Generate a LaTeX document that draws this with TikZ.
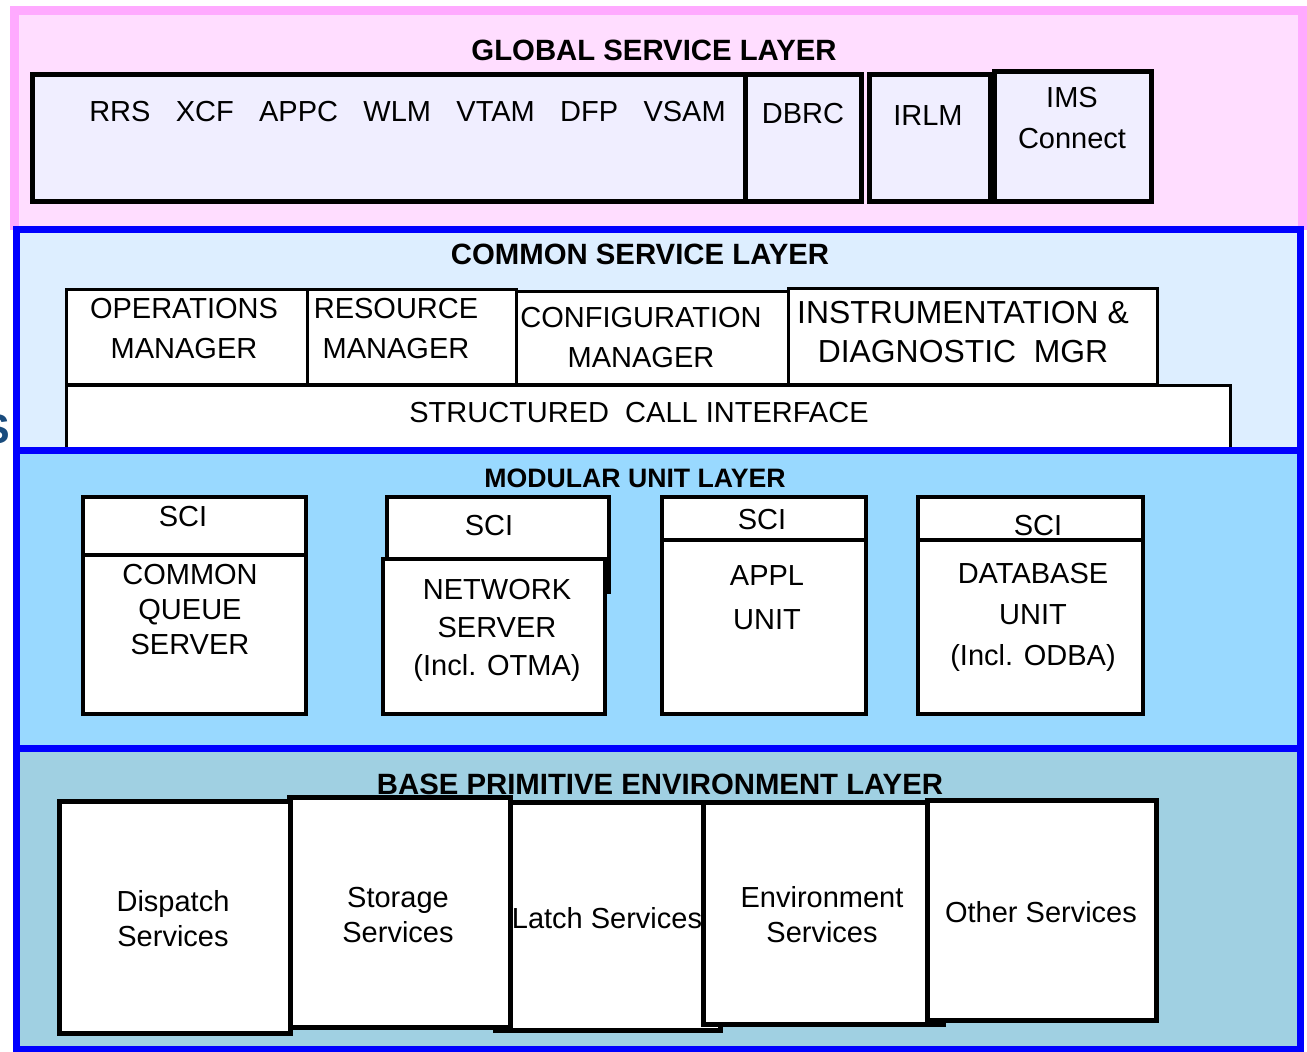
\documentclass[tikz,border=0pt]{standalone}
\usepackage{fontspec}
\setmainfont{Liberation Sans}
\definecolor{pinkborder}{RGB}{255,170,255}
\definecolor{pinkfill}{RGB}{255,221,255}
\definecolor{lavfill}{RGB}{240,238,255}
\definecolor{layerblue}{RGB}{0,0,255}
\definecolor{commonfill}{RGB}{221,238,255}
\definecolor{modfill}{RGB}{153,217,255}
\definecolor{basefill}{RGB}{160,208,226}
\definecolor{sblue}{RGB}{25,75,125}
\tikzset{
  layer/.style={draw=layerblue, line width=5.25pt},
  gbox/.style={draw=black, fill=lavfill, line width=3.75pt},
  cbox/.style={draw=black, fill=white, line width=2.25pt},
  mbox/.style={draw=black, fill=white, line width=3pt},
  bbox/.style={draw=black, fill=white, line width=3.75pt},
  ttl/.style={inner sep=0pt, font=\fontsize{22}{26}\selectfont\bfseries},
  lbl/.style={inner sep=0pt, align=center, font=\fontsize{21.75}{#1}\selectfont},
  lbl/.default=26.25
}
\begin{document}
\begin{tikzpicture}[x=0.75pt, y=-0.75pt]
\useasboundingbox (0,0) rectangle (1307,1052);
% ---------- global service layer ----------
\fill[pinkfill] (14.5,11) rectangle (1302.5,230);
\draw[pinkborder, line width=6.75pt] (14.5,230) -- (14.5,10.5) -- (1302.5,10.5) -- (1302.5,230);
\draw[gbox] (32.5,74.5) rectangle (745,201.5);
\draw[gbox] (745,74.5) rectangle (861,201.5);
\draw[gbox] (869,74.5) rectangle (990,201.5);
\draw[gbox] (994,72) rectangle (1151,202);
\node[ttl] (gtitle) at (654,50) {GLOBAL SERVICE LAYER};
\node[lbl, anchor=west] (gsys) at (89,112) {RRS\hspace{19pt}XCF\hspace{19pt}APPC\hspace{19pt}WLM\hspace{19pt}VTAM\hspace{19pt}DFP\hspace{19pt}VSAM};
\node[lbl] (dbrc) at (803,114) {DBRC};
\node[lbl] (irlm) at (928,116) {IRLM};
\node[lbl=30.75] (imsc) at (1072,118.5) {IMS\\Connect};
% ---------- common service layer ----------
\filldraw[layer, fill=commonfill] (16.5,229.5) rectangle (1300.5,450);
\draw[cbox] (66.5,289.5) rectangle (307,384);
\draw[cbox] (307,289.5) rectangle (516,384);
\draw[cbox] (516,291) rectangle (788,384);
\draw[cbox] (788,288.5) rectangle (1157,384);
\draw[cbox] (66.5,385) rectangle (1230.5,455);
\node[ttl] (ctitle) at (640,254) {COMMON SERVICE LAYER};
\node[lbl=30] (opsmgr) at (184,329) {OPERATIONS\\MANAGER};
\node[lbl=30] (resmgr) at (396,329) {RESOURCE\\MANAGER};
\node[lbl=30] (cfgmgr) at (641,338) {CONFIGURATION\\MANAGER};
\node[inner sep=0pt, align=center, font=\fontsize{23.9}{29.25}\selectfont] (idmgr) at (963,332.5) {INSTRUMENTATION \&\\DIAGNOSTIC\ \ MGR};
\node[lbl] (scitext) at (639,413) {STRUCTURED\ \ CALL INTERFACE};
\node[anchor=east, inner sep=0pt, text=sblue, font=\fontsize{31}{36}\selectfont\bfseries] (cutS) at (10,429) {S};
% ---------- modular unit layer ----------
\filldraw[layer, fill=modfill] (16.5,450) rectangle (1300.5,748.5);
\draw[mbox] (83,497) rectangle (305.5,555);
\draw[mbox] (83,555) rectangle (305.5,714);
\draw[mbox] (387,497) rectangle (609,592);
\draw[mbox] (383,559) rectangle (605,714);
\draw[mbox] (662,497) rectangle (866,540);
\draw[mbox] (662,540) rectangle (866,714);
\draw[mbox] (918,497) rectangle (1143,540);
\draw[mbox] (918,540) rectangle (1143,714);
\node[ttl, font=\fontsize{20}{24}\selectfont\bfseries] (mtitle) at (635,478) {MODULAR UNIT LAYER};
\node[lbl] (sci1) at (183,517) {SCI};
\node[lbl] (sci2) at (489,526) {SCI};
\node[lbl] (sci3) at (762,520) {SCI};
\node[lbl] (sci4) at (1038,526) {SCI};
\node[lbl=26.25] (cqs) at (190,610) {COMMON\\QUEUE\\SERVER};
\node[lbl=28.5] (netsrv) at (497,630) {NETWORK\\SERVER\\(Incl. OTMA)};
\node[lbl=33] (appl) at (767,598) {APPL\\UNIT};
\node[lbl=30.75] (dbunit) at (1033,617) {DATABASE\\UNIT\\(Incl. ODBA)};
% ---------- base primitive environment layer ----------
\filldraw[layer, fill=basefill] (16.5,748.5) rectangle (1300.5,1049);
\node[ttl] (btitle) at (660,784) {BASE PRIMITIVE ENVIRONMENT LAYER};
\draw[bbox] (495,802) rectangle (720,1030);
\draw[bbox] (289,797.5) rectangle (510,1027);
\draw[bbox] (59.5,801.5) rectangle (290,1033);
\draw[bbox] (703,802) rectangle (943,1024);
\draw[bbox] (927,800) rectangle (1156,1020.5);
\node[lbl] (dispatch) at (173,919) {Dispatch\\Services};
\node[lbl] (storage) at (398,915) {Storage\\Services};
\node[lbl] (latch) at (607,918) {Latch Services};
\node[lbl] (envsrv) at (822,915) {Environment\\Services};
\node[lbl] (other) at (1041,912) {Other Services};
\end{tikzpicture}
\end{document}
